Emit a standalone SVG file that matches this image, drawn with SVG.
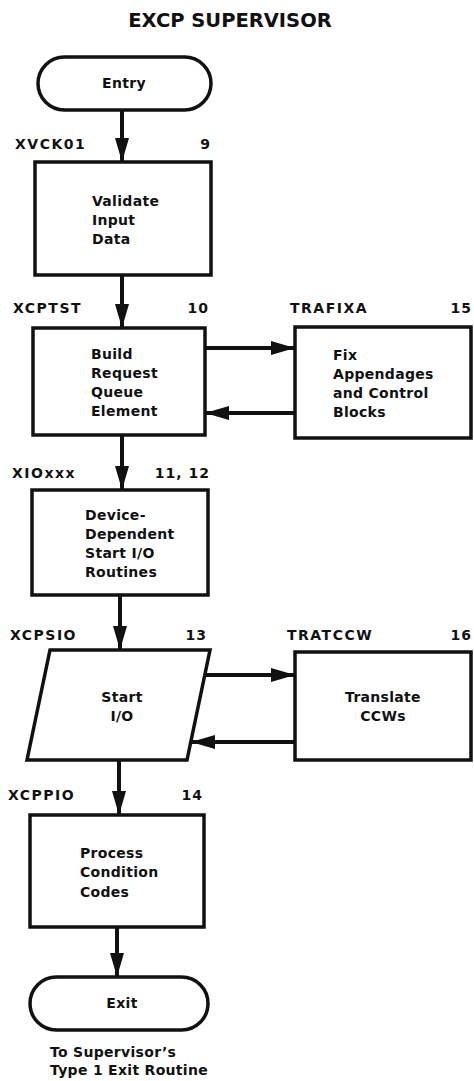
<svg xmlns="http://www.w3.org/2000/svg" width="474" height="1081" viewBox="0 0 474 1081">
<style>
text{font-family:"DejaVu Sans","Liberation Sans",sans-serif;font-weight:bold;fill:#111}
.t{font-size:19.5px}
.lbl{font-size:14px;letter-spacing:1.5px}
.num{font-size:14px;letter-spacing:1px;text-anchor:end}
.b{font-size:14px;letter-spacing:0.3px}
.c{text-anchor:middle}
.s{fill:#fff;stroke:#111;stroke-width:3.5}
.ln{stroke:#111;stroke-width:4;fill:none}
</style>
<defs>
<marker id="ah" markerUnits="userSpaceOnUse" markerWidth="24" markerHeight="14" refX="23" refY="7" orient="auto" viewBox="0 0 24 14">
<path d="M0,0 L24,7 L0,14 z" fill="#111"/>
</marker>
</defs>
<text class="t c" x="230" y="27">EXCP SUPERVISOR</text>
<g id="connectors">
<line class="ln" x1="122" y1="110" x2="122" y2="161" marker-end="url(#ah)"/>
<line class="ln" x1="122" y1="275" x2="122" y2="327" marker-end="url(#ah)"/>
<line class="ln" x1="205" y1="348" x2="294" y2="348" marker-end="url(#ah)"/>
<line class="ln" x1="295" y1="413" x2="206" y2="413" marker-end="url(#ah)"/>
<line class="ln" x1="122" y1="435" x2="122" y2="489" marker-end="url(#ah)"/>
<line class="ln" x1="120" y1="595" x2="120" y2="649" marker-end="url(#ah)"/>
<line class="ln" x1="205" y1="675" x2="294" y2="675" marker-end="url(#ah)"/>
<line class="ln" x1="295" y1="742" x2="192" y2="742" marker-end="url(#ah)"/>
<line class="ln" x1="119" y1="760" x2="119" y2="814" marker-end="url(#ah)"/>
<line class="ln" x1="117" y1="927" x2="117" y2="976" marker-end="url(#ah)"/>
</g>
<g id="entry">
<rect class="s" x="38" y="57" width="173" height="53" rx="26.5"/>
<text class="b c" x="124" y="88">Entry</text>
</g>
<g id="validate">
<text class="lbl" x="15" y="149">XVCK01</text>
<text class="num" x="211" y="149">9</text>
<rect class="s" x="35" y="162" width="176" height="113"/>
<text class="b" x="92" y="206">Validate</text>
<text class="b" x="92" y="225">Input</text>
<text class="b" x="92" y="244">Data</text>
</g>
<g id="build">
<text class="lbl" x="13" y="313">XCPTST</text>
<text class="num" x="209" y="313">10</text>
<rect class="s" x="33" y="328" width="172" height="107"/>
<text class="b" x="91" y="359">Build</text>
<text class="b" x="91" y="378">Request</text>
<text class="b" x="91" y="397">Queue</text>
<text class="b" x="91" y="416">Element</text>
</g>
<g id="trafixa">
<text class="lbl" x="290" y="313">TRAFIXA</text>
<text class="num" x="472" y="313">15</text>
<rect class="s" x="295" y="327" width="176" height="111"/>
<text class="b" x="333" y="360">Fix</text>
<text class="b" x="333" y="379">Appendages</text>
<text class="b" x="333" y="398">and Control</text>
<text class="b" x="333" y="417">Blocks</text>
</g>
<g id="device">
<text class="lbl" x="12" y="478">XIOxxx</text>
<text class="num" x="210" y="478">11, 12</text>
<rect class="s" x="32" y="490" width="176" height="105"/>
<text class="b" x="85" y="520">Device-</text>
<text class="b" x="85" y="539">Dependent</text>
<text class="b" x="85" y="558">Start I/O</text>
<text class="b" x="85" y="577">Routines</text>
</g>
<g id="startio">
<text class="lbl" x="10" y="640">XCPSIO</text>
<text class="num" x="207" y="640">13</text>
<polygon class="s" points="50,650 210,650 187,760 27,760"/>
<text class="b c" x="122" y="702">Start</text>
<text class="b c" x="122" y="721">I/O</text>
</g>
<g id="tratccw">
<text class="lbl" x="287" y="640">TRATCCW</text>
<text class="num" x="472" y="640">16</text>
<rect class="s" x="295" y="652" width="176" height="108"/>
<text class="b c" x="383" y="702">Translate</text>
<text class="b c" x="383" y="721">CCWs</text>
</g>
<g id="process">
<text class="lbl" x="8" y="800">XCPPIO</text>
<text class="num" x="203" y="800">14</text>
<rect class="s" x="30" y="815" width="174" height="112"/>
<text class="b" x="80" y="858">Process</text>
<text class="b" x="80" y="877">Condition</text>
<text class="b" x="80" y="897">Codes</text>
</g>
<g id="exit">
<rect class="s" x="30" y="977" width="178" height="53" rx="26.5"/>
<text class="b c" x="122" y="1008">Exit</text>
<text class="b" x="50" y="1057">To Supervisor’s</text>
<text class="b" x="50" y="1075">Type 1 Exit Routine</text>
</g>
</svg>
